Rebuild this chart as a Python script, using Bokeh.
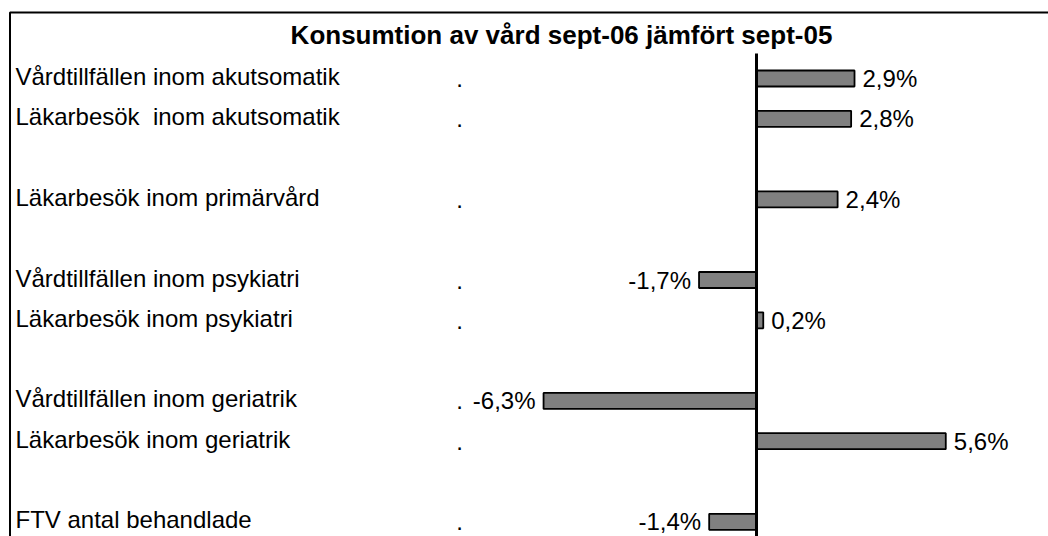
from bokeh.plotting import figure
from bokeh.models import ColumnDataSource, Range1d
from bokeh.core.properties import value
from bokeh.embed import file_html
from bokeh.resources import INLINE

title = "Konsumtion av vård sept-06 jämfört sept-05"
# Categories in chart order; empty strings are blank rows of the original chart
categories = [
    "Vårdtillfällen inom akutsomatik",
    "Läkarbesök\u00a0 inom akutsomatik",
    "",
    "Läkarbesök inom primärvård",
    "",
    "Vårdtillfällen inom psykiatri",
    "Läkarbesök inom psykiatri",
    "",
    "Vårdtillfällen inom geriatrik",
    "Läkarbesök inom geriatrik",
    "",
    "FTV antal behandlade",
]
values = [2.9, 2.8, None, 2.4, None, -1.7, 0.2, None, -6.3, 5.6, None, -1.4]

W, H = 1048, 536
PX_PER_PCT = 33.8
ZERO_PX = 756.0
ROW_PX = 40.3
ROW0_PX = 78.0

def xd(px):
    return (px - ZERO_PX) / PX_PER_PCT

def yd(py):
    return (py - ROW0_PX) / ROW_PX

FONT = value("Liberation Sans")

p = figure(width=W, height=H, output_backend="svg", toolbar_location=None,
           x_range=Range1d(xd(0), xd(W)), y_range=Range1d(yd(H), yd(0)),
           min_border=0)
p.axis.visible = False
p.grid.visible = False
p.outline_line_color = None
p.background_fill_color = "white"
p.border_fill_color = "white"

rows = [(i, c, v) for i, (c, v) in enumerate(zip(categories, values)) if c]
ys = [r[0] for r in rows]
names = [r[1] for r in rows]
vals = [r[2] for r in rows]

def fmt(v):
    return f"{v:.1f}".replace(".", ",") + "%"

src = ColumnDataSource(dict(y=ys, name=names, v=vals, zero=[0] * len(vals)))

# frame (top and left edges visible)
p.line(x=[xd(9.5), xd(9.5), xd(W + 20)], y=[yd(H + 20), yd(12), yd(12)],
       line_color="black", line_width=2)

p.hbar(y="y", left="zero", right="v", height=16 / ROW_PX, source=src,
       fill_color="#808080", line_color="black", line_width=1.8)

# zero line
p.segment(x0=[0], y0=[yd(53)], x1=[0], y1=[yd(H + 20)], line_color="black", line_width=3)

p.text(x=xd(15), y="y", text="name", source=src, text_font=FONT, y_offset=-2,
       text_font_size="24px", text_align="left", text_baseline="middle", text_color="black")
p.text(x=xd(459), y="y", text=value("."), source=src, text_font=FONT,
       text_font_size="24px", text_align="center", text_baseline="middle", text_color="black")

pos = ColumnDataSource(dict(y=[y for y, v in zip(ys, vals) if v >= 0],
                            v=[v for v in vals if v >= 0],
                            lab=[fmt(v) for v in vals if v >= 0]))
neg = ColumnDataSource(dict(y=[y for y, v in zip(ys, vals) if v < 0],
                            v=[v for v in vals if v < 0],
                            lab=[fmt(v) for v in vals if v < 0]))
p.text(x="v", y="y", text="lab", source=pos, x_offset=8, text_font=FONT,
       text_font_size="24px", text_align="left", text_baseline="middle", text_color="black")
p.text(x="v", y="y", text="lab", source=neg, x_offset=-8, text_font=FONT,
       text_font_size="24px", text_align="right", text_baseline="middle", text_color="black")

p.text(x=[xd(561)], y=[yd(34)], text=[title], text_font=FONT, text_font_style="bold",
       text_font_size="26px", text_align="center", text_baseline="middle", text_color="black")

open("out.html", "w").write(file_html(p, INLINE))
